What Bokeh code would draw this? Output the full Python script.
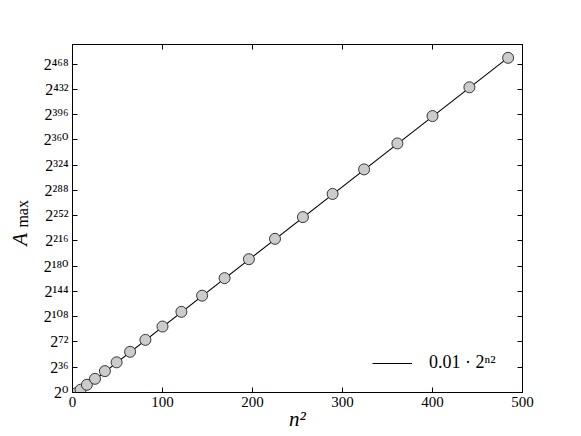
import math
from bokeh.plotting import figure
from bokeh.models import Range1d, FixedTicker, LinearAxis, Label, Legend, LegendItem
from bokeh.embed import file_html
from bokeh.resources import INLINE

# data: n^2 and log2(A_max)
n_sq = [4, 9, 16, 25, 36, 49, 64, 81, 100, 121, 144, 169, 196, 225, 256, 289, 324, 361, 400, 441, 484]
log2_amax = [-1, 4, 11, 19.5, 30.5, 43, 58, 75, 94, 115, 138, 163, 190, 219, 250, 283, 318, 355, 394, 435, 477]

# fitted curve 0.01 * 2^(n^2), drawn in log2 space
fit_x = [1, 484]
fit_coef = 0.01
fit_y = [math.log2(fit_coef) + v for v in fit_x]

x_ticks = [0, 100, 200, 300, 400, 500]
y_ticks = [0, 36, 72, 108, 144, 180, 216, 252, 288, 324, 360, 396, 432, 468]

SUP = str.maketrans("0123456789", "⁰¹²³⁴⁵⁶⁷⁸⁹")
y_labels = {t: "2" + str(t).translate(SUP) for t in y_ticks}

FONT = "Liberation Serif"
TICKFONT = "'Liberation Serif', 'DejaVu Serif'"

p = figure(width=565, height=430, x_range=Range1d(0, 500), y_range=Range1d(0, 496),
           output_backend="svg", toolbar_location=None,
           min_border_left=72, min_border_right=43, min_border_top=44, min_border_bottom=38,
           background_fill_color="white", border_fill_color="white")
p.xgrid.visible = False
p.ygrid.visible = False
p.outline_line_color = "black"
p.outline_line_width = 1

xa = p.xaxis[0]
xa.ticker = FixedTicker(ticks=x_ticks)
ya = p.yaxis[0]
ya.ticker = FixedTicker(ticks=y_ticks)
ya.major_label_overrides = y_labels

top = LinearAxis(ticker=FixedTicker(ticks=x_ticks))
right = LinearAxis(ticker=FixedTicker(ticks=y_ticks))
top.major_label_overrides = {t: "" for t in x_ticks}
right.major_label_overrides = {t: "" for t in y_ticks}
p.add_layout(top, "above")
p.add_layout(right, "right")

for ax, lab in ((xa, True), (ya, True), (top, False), (right, False)):
    ax.axis_line_color = "black"
    ax.major_tick_in = 5
    ax.major_tick_out = 0
    ax.minor_tick_line_color = None
    ax.major_tick_line_color = "black"
    ax.major_label_text_font = TICKFONT
    ax.major_label_text_font_size = "15px" if lab else "1px"
    ax.major_label_text_color = "black"
    ax.major_label_standoff = 4 if lab else 0
ya.major_label_text_font_size = "16px"

fit = p.line(fit_x, fit_y, line_color="black", line_width=1.1)
p.scatter(n_sq, log2_amax, size=11, fill_color="#cccccc", line_color="#222222", line_width=0.9)

legend = Legend(items=[LegendItem(label="0.01 · 2ⁿ²", renderers=[fit])],
                location=(300, 19), border_line_color=None, background_fill_alpha=0,
                glyph_width=40, label_text_font=FONT, label_text_font_size="18px",
                label_text_color="black", label_standoff=17, margin=0, padding=8)
p.add_layout(legend)

# axis titles (placed in side panels so they are not clipped to the frame)
p.add_layout(Label(x=250, y=0, y_offset=-26, text="n²", text_font=FONT, text_font_style="italic",
                   text_color="black", text_font_size="21px", text_align="center",
                   text_baseline="alphabetic"), "above")
p.add_layout(Label(x=0, y=209, x_offset=-41, text="A", text_font=FONT, text_font_style="italic",
                   text_color="black", text_font_size="21px", text_align="left",
                   text_baseline="bottom", angle=math.pi / 2), "right")
p.add_layout(Label(x=0, y=235, x_offset=-42, text="max", text_font=FONT, text_color="black",
                   text_font_size="16px", text_align="left", text_baseline="bottom",
                   angle=math.pi / 2), "left")

open("out.html", "w").write(file_html(p, INLINE))
